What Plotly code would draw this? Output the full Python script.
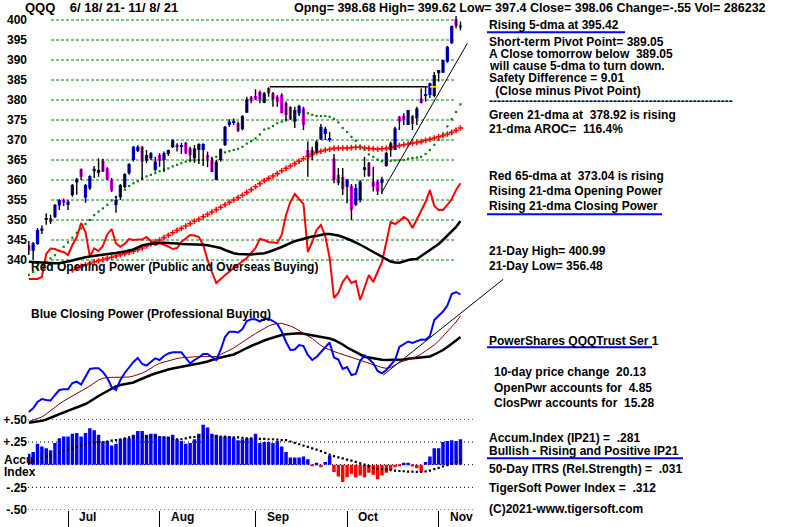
import pandas as pd
import plotly.graph_objects as go

# ---------------- data ----------------
holidays = ["2021-07-05", "2021-09-06"]
dates = [d for d in pd.bdate_range("2021-06-18", "2021-11-08") if d.strftime("%Y-%m-%d") not in holidays]
idx = list(range(len(dates)))

opens = [343.75, 342.3, 344.0, 347.3, 350.0, 350.5, 350.7, 353.6, 355.0, 353.8,
         356.2, 359.4, 362.7, 355.6, 357.9, 362.2, 361.8, 364.8, 362.9, 360.0,
         353.75, 355.7, 358.2, 361.7, 365.0, 367.3, 368.3, 364.8, 365.4, 362.5,
         366.25, 365.0, 366.5, 368.2, 368.75, 368.4, 369.3, 367.9, 365.4, 367.5,
         367.5, 366.25, 365.0, 360.0, 365.0, 368.75, 373.75, 374.4, 374.2, 372.7,
         376.8, 380.7, 381.0, 382.0, 379.3, 383.0, 381.7, 380.8, 381.25, 379.2,
         378.3, 374.6, 376.7, 377.9, 367.5, 367.5, 367.1, 370.2, 371.5, 370.0,
         365.4, 361.25, 360.8, 358.3, 358.5, 353.75, 355.0, 362.5, 364.3, 359.6,
         359.6, 359.3, 363.5, 367.5, 367.5, 375.8, 376.0, 373.75, 376.0, 375.4,
         380.4, 381.0, 381.25, 381.0, 386.7, 386.8, 389.6, 394.2, 400.2, 398.68]
highs = [344.75, 344.5, 348.0, 348.6, 351.7, 351.3, 354.0, 355.2, 355.4, 355.0,
         359.0, 360.5, 362.9, 359.0, 361.2, 363.5, 365.4, 365.3, 363.2, 360.5,
         356.0, 359.0, 361.7, 364.2, 368.5, 368.7, 368.5, 367.5, 367.0, 365.8,
         366.7, 367.1, 367.6, 370.2, 369.2, 369.3, 369.5, 368.3, 368.75, 369.2,
         369.2, 367.1, 365.8, 365.0, 367.9, 373.5, 375.2, 375.4, 374.6, 376.2,
         380.8, 381.0, 382.7, 382.4, 382.0, 383.2, 382.0, 381.2, 381.7, 379.6,
         378.4, 378.3, 378.8, 378.3, 369.6, 368.3, 370.0, 374.0, 373.3, 372.0,
         366.5, 363.0, 363.0, 360.2, 359.0, 359.0, 360.0, 365.8, 364.5, 363.3,
         360.0, 360.8, 367.0, 369.6, 373.3, 376.0, 376.7, 377.5, 376.2, 378.3,
         382.9, 383.3, 384.3, 387.0, 387.5, 390.0, 393.5, 398.6, 400.99, 399.62]
lows = [341.25, 340.0, 343.8, 346.5, 348.8, 349.0, 350.5, 352.5, 353.5, 352.5,
        355.8, 356.3, 360.0, 354.3, 357.5, 360.5, 360.8, 362.0, 360.0, 357.0,
        351.8, 355.0, 358.0, 361.3, 364.6, 367.0, 360.0, 364.2, 365.0, 362.1,
        363.3, 362.0, 366.0, 368.0, 367.1, 366.5, 366.5, 364.6, 364.3, 364.0,
        363.5, 363.2, 362.0, 360.0, 364.6, 368.5, 373.3, 373.75, 372.0, 372.4,
        376.8, 379.2, 380.0, 379.2, 379.2, 380.8, 378.3, 378.3, 376.7, 374.6,
        375.0, 373.0, 376.0, 372.5, 360.8, 365.0, 366.7, 370.0, 370.0, 369.5,
        359.2, 358.7, 356.25, 354.2, 350.0, 353.5, 354.4, 360.8, 360.8, 357.1,
        356.25, 356.48, 363.3, 365.8, 367.5, 372.5, 373.75, 373.75, 372.5, 373.75,
        379.2, 379.6, 380.5, 380.7, 384.6, 386.8, 389.3, 394.0, 397.9, 397.4]
closes = [342.3, 344.2, 347.5, 347.9, 350.3, 349.5, 353.75, 355.0, 354.3, 354.6,
          358.8, 360.2, 360.8, 358.75, 361.0, 362.8, 362.5, 362.1, 360.1, 357.3,
          355.0, 358.75, 361.5, 364.0, 368.3, 368.3, 364.6, 366.25, 366.7, 364.6,
          364.8, 366.7, 367.5, 370.0, 368.2, 368.6, 366.7, 366.25, 367.9, 369.0,
          369.0, 365.4, 362.0, 364.6, 367.7, 373.3, 374.6, 374.6, 372.3, 376.0,
          380.2, 379.8, 380.2, 380.2, 381.7, 381.7, 380.2, 379.6, 376.7, 376.25,
          375.2, 377.5, 378.5, 373.75, 365.8, 366.0, 369.6, 373.3, 372.8, 370.5,
          360.0, 359.2, 357.7, 360.2, 352.5, 358.0, 359.6, 363.2, 361.0, 358.3,
          357.1, 360.2, 366.8, 369.2, 372.9, 374.6, 375.0, 377.5, 374.0, 377.9,
          379.2, 381.5, 384.2, 386.25, 387.5, 390.0, 393.3, 398.5, 398.5, 398.06]

# green 21-dma (price units)
ma21 = [336.3, 337.0, 337.9, 338.7, 339.6, 340.4, 341.2, 342.3, 343.3, 344.4,
        345.6, 346.8, 347.9, 349.0, 350.0, 351.2, 352.1, 352.9, 353.8, 354.9,
        355.8, 356.7, 357.6, 358.5, 359.2, 359.7, 360.4, 360.9, 361.3, 361.7,
        362.2, 362.6, 362.9, 363.4, 363.8, 364.2, 364.6, 364.8, 364.9, 365.0,
        365.0, 365.1, 365.3, 365.8, 366.4, 366.9, 367.2, 367.5, 367.8, 368.3,
        369.1, 369.7, 370.4, 371.4, 372.6, 372.9, 373.5, 374.2, 374.6, 375.1,
        375.6, 376.2, 376.5, 376.7, 376.7, 376.3, 376.0, 376.0, 376.0, 375.8,
        375.3, 374.4, 373.0, 372.0, 370.8, 369.8, 368.5, 367.6, 366.4, 365.8,
        365.1, 364.7, 364.7, 364.8, 364.9, 364.9, 365.0, 365.3, 365.5, 365.6,
        365.8, 366.5, 367.5, 368.8, 370.0, 371.6, 373.4, 375.2, 377.0, 378.9]
# red 65-dma (price units), starts at day 10
ma65 = [None] * 10 + [
        337.5, 338.0, 338.4, 338.8, 339.1, 339.5, 339.8, 340.1, 340.4, 340.7,
        341.0, 341.3, 341.6, 341.9, 342.2, 342.6, 343.0, 343.5, 344.1, 344.6,
        345.0, 345.6, 346.2, 346.8, 347.4, 347.9, 348.5, 349.1, 349.7, 350.2,
        350.8, 351.4, 352.0, 352.6, 353.2, 353.8, 354.4, 355.0, 355.6, 356.2,
        356.9, 357.6, 358.3, 359.1, 359.8, 360.4, 361.0, 361.6, 362.3, 362.9,
        363.5, 364.1, 364.7, 365.3, 365.9, 366.5, 366.9, 367.2, 367.5, 367.7,
        367.9, 368.0, 368.0, 368.0, 368.1, 368.2, 368.2, 368.0, 367.9, 367.8,
        367.7, 367.8, 367.9, 368.1, 368.3, 368.6, 368.8, 369.0, 369.2, 369.4,
        369.6, 369.9, 370.2, 370.5, 370.8, 371.1, 371.5, 371.9, 372.4, 373.0]

# Opening Power (arbitrary units) and its moving average
open_power = [31, 31, 31, 33, 56, 61.5, 61, 59, 58, 55,
              65, 73, 87, 78, 53.5, 61.7, 59, 64, 75.5, 81,
              66.5, 63.3, 66, 71, 70, 70.5, 70.5, 73, 69, 65,
              67, 65.5, 63.5, 61, 62, 68, 72, 75, 74.5, 73,
              65, 50, 38, 27, 31, 35, 39, 42, 45.5, 49,
              52, 57, 62, 71, 70, 68, 67.7, 67, 75, 95,
              108, 116, 111, 106, 58, 68, 80, 85, 74, 52,
              12, 17, 28, 34, 27, 29, 10, 22, 35, 28,
              38, 48, 68, 88, 86, 89, 93, 90, 82, 91,
              100, 108, 120, 104, 100, 100, 105, 111, 120, 126.7]
open_power_ma = [48.3, 48, 47.5, 47, 46.8, 46.7, 46.7, 46.8, 47.5, 48.5,
                 49.5, 50.8, 52, 52.8, 53.5, 54.2, 55, 55.5, 56, 56.5,
                 57, 57.5, 58.5, 59.5, 60.5, 62.5, 64.5, 65.5, 66.2, 66.8,
                 67.2, 67.3, 67.2, 67, 66.5, 66, 66, 65.8, 65.7, 65.7,
                 65.3, 64.8, 64, 63.3, 62, 60, 58, 56.8, 56, 55.6,
                 55.5, 55.5, 56, 56.5, 56.7, 58, 59.5, 61.5, 63, 65,
                 67, 68.8, 70, 71.2, 72.5, 73.5, 74, 75, 76, 76,
                 75.5, 74.5, 73, 71.5, 69.5, 67.5, 65.5, 63, 60.5, 58,
                 55.5, 53, 50.5, 48.5, 47.5, 47.3, 48.5, 50, 50.7, 51,
                 54, 57, 60, 63, 66, 70, 74, 78, 83, 89]

# Closing Power (arbitrary units), its 21-dma and its 65-dma
close_power = [18, 21.7, 28, 31, 30, 29.5, 35, 40, 40.7, 40.7,
               47, 48.3, 45.5, 54, 61, 61.7, 61.7, 58, 52, 43,
               40, 50, 57, 62.5, 68, 72, 66, 64.5, 68.5, 71.7,
               70, 74, 76.5, 77.7, 77.7, 77.7, 72, 66.7, 70, 72.5,
               76, 76, 73, 70, 80, 93, 98.3, 98.3, 97.5, 101,
               109, 110.7, 110.7, 108.5, 111, 111.2, 109, 106, 98.5, 88,
               80, 80.5, 85, 84, 75, 70, 73, 78, 83, 87.5,
               72.5, 70.5, 61, 63, 55, 56, 69, 74.5, 71, 67,
               59, 56.7, 60, 64.5, 70, 83, 85.5, 88.5, 87, 89,
               90.5, 90.3, 94, 110, 114, 118.5, 124.5, 136, 138, 135.5]
close_power_ma21 = [8.5, 10, 11.5, 13, 16, 19.5, 23, 26, 29, 31.5,
                    34, 36, 38.5, 41, 44, 47, 50, 51.8, 52.5, 52.7,
                    52.7, 52.7, 52.7, 53, 54, 55.3, 56.8, 59, 62, 64.5,
                    66.7, 68, 69.5, 70.7, 71.5, 72.2, 72.7, 73, 73.2, 73.3,
                    73.3, 73.3, 73.3, 73.5, 75.5, 77.5, 79.5, 82, 85, 88,
                    91, 94, 96.5, 99, 101.5, 104, 105.5, 106.5, 106.7, 105.5,
                    104, 102, 99.5, 97, 94.5, 91.5, 88, 84.5, 82, 80,
                    78.5, 77, 75.5, 74, 72.5, 71, 70, 68.5, 67, 65.5,
                    64, 62.5, 61.7, 62.5, 65, 67.5, 69, 70.5, 72, 73.5,
                    76, 79, 81.5, 85, 89, 93.5, 98, 103, 108, 114]
close_power_ma65 = [7.3, 7.8, 8.5, 9.2, 10.5, 12, 14, 15.8, 17.5, 19,
                    20.2, 22, 24, 26, 28.5, 31.5, 34, 36.5, 39, 41.5,
                    43.5, 45, 46, 46.8, 47.5, 49.5, 51.5, 53.5, 55, 56.5,
                    58, 59.5, 60.5, 61.5, 62.5, 63.3, 64.2, 65, 65.8, 66.5,
                    67.3, 68.5, 70, 71.5, 72.5, 73.5, 74.5, 75.5, 77.5, 80,
                    82, 84, 86, 88, 89.5, 91, 92.5, 93.8, 95, 95.8,
                    96.3, 96.7, 96.7, 96.3, 95.5, 95, 94.5, 93.5, 92.5, 91.5,
                    90, 88, 85.5, 82.5, 80, 77.5, 75, 73.3, 72.5, 71.5,
                    70.8, 70.2, 70, 70, 70, 70, 70.5, 71.2, 71.7, 72,
                    72.2, 72.5, 73.5, 75.5, 77.5, 80, 83, 86, 89.5, 93]

# Accumulation Index (IP21) and its moving average
accum = [0.12, 0.14, 0.23, 0.20, 0.18, 0.16, 0.24, 0.29, 0.31, 0.31,
         0.34, 0.35, 0.31, 0.35, 0.40, 0.38, 0.33, 0.25, 0.26, 0.21,
         0.23, 0.28, 0.29, 0.29, 0.33, 0.37, 0.37, 0.33, 0.34, 0.34,
         0.31, 0.31, 0.31, 0.33, 0.28, 0.26, 0.23, 0.24, 0.28, 0.34,
         0.44, 0.41, 0.34, 0.33, 0.31, 0.31, 0.31, 0.30, 0.27, 0.28,
         0.29, 0.29, 0.34, 0.24, 0.25, 0.25, 0.24, 0.26, 0.20, 0.14,
         0.08, 0.08, 0.08, 0.09, 0.06, -0.01, 0.02, -0.03, 0.03, 0.10,
         -0.08, -0.13, -0.19, -0.14, -0.10, -0.14, -0.12, -0.14, -0.09, -0.11,
         -0.16, -0.12, -0.09, -0.06, -0.03, -0.01, 0.02, 0.02, -0.02, -0.04,
         -0.08, 0.03, 0.09, 0.18, 0.18, 0.25, 0.26, 0.27, 0.26, 0.281]
accum_ma = [0.03, 0.045, 0.06, 0.075, 0.09, 0.10, 0.12, 0.135, 0.15, 0.165,
            0.18, 0.195, 0.21, 0.225, 0.235, 0.24, 0.245, 0.25, 0.255, 0.265,
            0.27, 0.28, 0.29, 0.30, 0.30, 0.305, 0.31, 0.31, 0.31, 0.31,
            0.305, 0.30, 0.29, 0.285, 0.28, 0.28, 0.29, 0.30, 0.305, 0.31,
            0.31, 0.31, 0.31, 0.31, 0.31, 0.31, 0.305, 0.30, 0.30, 0.295,
            0.29, 0.29, 0.29, 0.285, 0.285, 0.28, 0.28, 0.275, 0.27, 0.27,
            0.255, 0.24, 0.225, 0.21, 0.195, 0.18, 0.165, 0.15, 0.13, 0.11,
            0.095, 0.08, 0.07, 0.055, 0.045, 0.03, 0.015, 0.0, -0.02, -0.035,
            -0.045, -0.05, -0.055, -0.06, -0.065, -0.07, -0.073, -0.076, -0.078, -0.08,
            -0.08, -0.075, -0.065, -0.05, -0.035, -0.02, -0.005, 0.01, 0.03, 0.05]

# trend / resistance lines
resistance_level = 383.3
resistance_days = [55.3, 91.5]
breakout_days = [92.0, 93.9]
price_trend_days = [80.9, 100.6]
price_trend_vals = [356.8, 394.2]
cp_trend_days = [81.3, 108.8]
cp_trend_vals = [55, 150.7]

price_ticks = [340, 345, 350, 355, 360, 365, 370, 375, 380, 385, 390, 395, 400]
accum_ticks = [0.5, 0.25, -0.25, -0.5]
accum_tick_text = ["+.50", "+.25", "-.25", "-.50"]
accum_grid = [0.5, 0.25, 0.0, -0.25, -0.5]
month_names = ["Jul", "Aug", "Sep", "Oct", "Nov"]

# ---------------- helpers ----------------
W, H = 800, 527
FONT = "Liberation Sans"
BLUE, MAG, RED, GREEN = "#0000FF", "#FF00FF", "#FF0000", "#008000"
CLEAR = "rgba(0,0,0,0)"


def px(x):
    return x / W


def py(y):
    return 1 - y / H


month_starts = [i for i in range(1, len(dates)) if dates[i].month != dates[i - 1].month]

fig = go.Figure()

# Opening power (on its own hidden axis inside the price panel)
fig.add_trace(go.Scatter(x=idx, y=open_power, mode="lines", line=dict(color=RED, width=2),
                         xaxis="x", yaxis="y2"))
fig.add_trace(go.Scatter(x=idx, y=open_power_ma, mode="lines", line=dict(color="black", width=2.5),
                         xaxis="x", yaxis="y2"))

# moving averages of price
fig.add_trace(go.Scatter(x=idx, y=ma65, mode="markers",
                         marker=dict(symbol="cross-thin", size=4, color=RED, line=dict(width=1.6, color=RED)),
                         xaxis="x", yaxis="y"))
fig.add_trace(go.Scatter(x=idx, y=ma21, mode="markers",
                         marker=dict(symbol="square", size=2.2, color=GREEN, line=dict(width=0)),
                         xaxis="x", yaxis="y"))

# candles: wicks + bodies
wx, wy = [], []
for i, h, l in zip(idx, highs, lows):
    wx += [i, i, None]
    wy += [l, h, None]
fig.add_trace(go.Scatter(x=wx, y=wy, mode="lines", line=dict(color="black", width=1.4),
                         xaxis="x", yaxis="y"))
body_base = [min(o, c) for o, c in zip(opens, closes)]
body_h = [max(abs(c - o), 0.35) for o, c in zip(opens, closes)]
body_col = [BLUE if c >= o else MAG for o, c in zip(opens, closes)]
fig.add_trace(go.Bar(x=idx, y=body_h, base=body_base, width=0.75, marker=dict(color=body_col, line=dict(width=0)),
                     xaxis="x", yaxis="y"))

# resistance & trend lines
fig.add_trace(go.Scatter(x=resistance_days, y=[resistance_level] * 2, mode="lines",
                         line=dict(color="black", width=1.5), xaxis="x", yaxis="y"))
fig.add_trace(go.Scatter(x=breakout_days, y=[resistance_level] * 2, mode="lines",
                         line=dict(color="#FFFF00", width=1.5), xaxis="x", yaxis="y"))
fig.add_trace(go.Scatter(x=price_trend_days, y=price_trend_vals, mode="lines",
                         line=dict(color="black", width=1), xaxis="x", yaxis="y"))

# closing power panel
fig.add_trace(go.Scatter(x=idx, y=close_power_ma65, mode="lines", line=dict(color="black", width=2.5),
                         xaxis="x", yaxis="y3"))
fig.add_trace(go.Scatter(x=idx, y=close_power_ma21, mode="lines", line=dict(color="#800000", width=1),
                         xaxis="x", yaxis="y3"))
fig.add_trace(go.Scatter(x=idx, y=close_power, mode="lines", line=dict(color=BLUE, width=2),
                         xaxis="x", yaxis="y3"))
fig.add_trace(go.Scatter(x=cp_trend_days, y=cp_trend_vals, mode="lines",
                         line=dict(color="black", width=1), xaxis="x", yaxis="y3"))

# accumulation index panel
fig.add_trace(go.Bar(x=idx, y=accum, width=0.8,
                     marker=dict(color=[BLUE if v >= 0 else RED for v in accum], line=dict(width=0)),
                     xaxis="x", yaxis="y4"))
fig.add_trace(go.Scatter(x=idx, y=accum_ma, mode="markers",
                         marker=dict(symbol="square", size=2.2, color="black", line=dict(width=0)),
                         xaxis="x", yaxis="y4"))

# ---------------- layout ----------------
x0_px, x1_px = 28, 505
day_px = 4.36
first_px = 28.8
xr = [(x0_px - first_px) / day_px, (x1_px - first_px) / day_px]

bold = dict(family=FONT, size=12, color="black", weight="bold")

shapes = []
for p in price_ticks:
    shapes.append(dict(type="line", xref="paper", yref="y", x0=px(51), x1=px(455), y0=p, y1=p,
                       line=dict(color=GREEN, width=1, dash="3px,2px"), layer="below"))
for v in accum_grid:
    shapes.append(dict(type="line", xref="paper", yref="y4", x0=px(28), x1=px(475), y0=v, y1=v,
                       line=dict(color="black", width=1, dash="1px,3px"), layer="below"))
for (xa, xb, yy) in [(487, 625, 32.3), (487, 662, 214.3), (487, 652, 347.3), (487, 683, 458.3)]:
    shapes.append(dict(type="line", xref="paper", yref="paper", x0=px(xa), x1=px(xb), y0=py(yy), y1=py(yy),
                       line=dict(color=BLUE, width=2)))

NB = "\u00a0"


def t(s):
    return s.replace("  ", " " + NB)


texts = [
    ("QQQ" + NB * 4 + "6/ 18/ 21- 11/ 8/ 21", 23, 8, 13),
    ("Opng= 398.68 High= 399.62 Low= 397.4 Close= 398.06 Change=-.55 Vol= 286232", 292, 8, 12.5),
    ("Rising 5-dma at 395.42", 487, 25, 12),
    ("Short-term Pivot Point= 389.05", 487, 42, 12),
    ("A Close tomorrow below  389.05", 487, 54, 12),
    ("will cause 5-dma to turn down.", 487, 66, 12),
    ("Safety Difference = 9.01", 487, 78, 12),
    (" (Close minus Pivot Point)", 490, 91, 12),
    ("-" * 61, 487, 101, 12),
    ("Green 21-dma at  378.92 is rising", 487, 115, 12),
    ("21-dma AROC=  116.4%", 487, 129, 12),
    ("Red 65-dma at  373.04 is rising", 487, 176, 12),
    ("Rising 21-dma Opening Power", 487, 191, 12),
    ("Rising 21-dma Closing Power", 487, 206, 12),
    ("21-Day High= 400.99", 487, 251, 12),
    ("21-Day Low= 356.48", 487, 266, 12),
    ("PowerShares QQQTrust Ser 1", 487, 341, 12),
    ("10-day price change  20.13", 492, 372, 12),
    ("OpenPwr accounts for  4.85", 492, 388, 12),
    ("ClosPwr accounts for  15.28", 492, 403, 12),
    ("Accum.Index (IP21) =  .281", 487, 438, 12),
    ("Bullish - Rising and Positive IP21", 487, 451, 12),
    ("50-Day ITRS (Rel.Strength) =  .031", 487, 469, 12),
    ("TigerSoft Power Index =  .312", 487, 488, 12),
    ("(C)2021-www.tigersoft.com", 487, 509, 12),
    ("Red Opening Power (Public and Overseas Buying)", 29, 267, 12),
    ("Blue Closing Power (Professional Buying)", 29, 314, 12),
    ("Accu", 2, 460, 12),
    ("Index", 2, 472, 12),
]
annotations = []
for s, x, y, sz in texts:
    f = dict(bold)
    f["size"] = sz
    annotations.append(dict(text=t(s), x=px(x), y=py(y), xref="paper", yref="paper", xanchor="left",
                            yanchor="middle", showarrow=False, font=f))
for m, name in zip(month_starts, month_names):
    annotations.append(dict(text=name, x=m + 9 / day_px, y=py(517), xref="x", yref="paper", xanchor="left",
                            yanchor="middle", showarrow=False, font=bold))

fig.update_layout(
    width=W, height=H, margin=dict(l=0, r=0, t=0, b=0),
    paper_bgcolor="white", plot_bgcolor=CLEAR, showlegend=False,
    barmode="overlay",
    font=dict(family=FONT, size=12, color="black"),
    xaxis=dict(domain=[px(x0_px), px(x1_px)], range=xr, anchor="y4", showgrid=False, zeroline=False,
               showline=False, tickmode="array", tickvals=month_starts, ticks="outside", ticklen=17,
               tickcolor="black", tickwidth=1, showticklabels=False),
    yaxis=dict(domain=[py(300), py(14)], range=[330, 401.5], anchor="x", showgrid=False, zeroline=False,
               showline=False, tickmode="array", tickvals=price_ticks, ticks="", tickfont=bold,
               automargin=False),
    yaxis2=dict(domain=[py(310), py(160)], range=[0, 150], anchor="x", visible=False),
    yaxis3=dict(domain=[py(430), py(275)], range=[0, 155], anchor="x", visible=False),
    yaxis4=dict(domain=[py(510), py(419.3)], range=[-0.5, 0.5], anchor="x", showgrid=False, zeroline=False,
                showline=False, tickmode="array", tickvals=accum_ticks, ticktext=accum_tick_text, ticks="",
                tickfont=bold, automargin=False),
    shapes=shapes, annotations=annotations,
)

fig.write_html("out.html", config={"displayModeBar": False},
               post_script="document.body.style.margin='0px';document.body.style.overflow='hidden';")
